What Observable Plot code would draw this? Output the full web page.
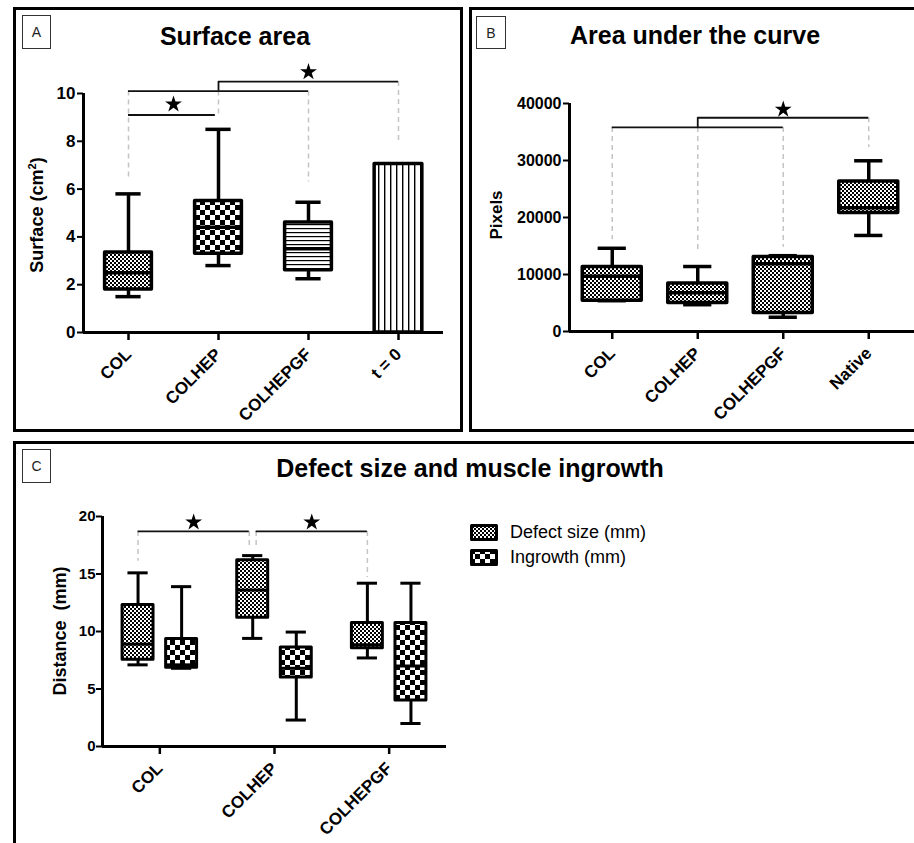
<!DOCTYPE html>
<html><head><meta charset="utf-8">
<script src="https://cdn.jsdelivr.net/npm/d3@7"></script>
<script src="https://cdn.jsdelivr.net/npm/@observablehq/plot@0.6"></script>
<style>
html,body{margin:0;padding:0;background:#fff;}
body{width:914px;height:843px;overflow:hidden;position:relative;font-family:"Liberation Sans",Arial,Helvetica,sans-serif;}
.panel{position:absolute;border:3px solid #000;box-sizing:border-box;}
.tag{position:absolute;border:1px solid #333;box-sizing:border-box;font-size:14px;color:#222;display:flex;align-items:center;justify-content:center;background:#fff;}
.title{position:absolute;font-weight:bold;font-size:25px;transform:translate(-50%,-50%);white-space:nowrap;color:#000;}
.ylab{position:absolute;font-weight:bold;white-space:pre;transform:translate(-50%,-50%) rotate(-90deg);color:#000;}
.ylab sup{font-size:0.62em;vertical-align:0.55em;line-height:0;}
.chart{position:absolute;}
.leg{position:absolute;font-size:18px;transform:translateY(-50%);white-space:nowrap;color:#000;}
.sw{position:absolute;}
</style></head><body>
<svg width="0" height="0" style="position:absolute"><defs>
<pattern id="fine" width="4" height="4" patternUnits="userSpaceOnUse"><rect width="4" height="4" fill="#fff"/><rect width="2" height="2" fill="#000"/><rect x="2" y="2" width="2" height="2" fill="#000"/></pattern>
<pattern id="coarse" width="10" height="10" patternUnits="userSpaceOnUse"><rect width="10" height="10" fill="#fff"/><rect width="5" height="5" fill="#000"/><rect x="5" y="5" width="5" height="5" fill="#000"/></pattern>
<pattern id="hlines" width="8" height="4" patternUnits="userSpaceOnUse"><rect width="8" height="4" fill="#fff"/><rect y="0" width="8" height="1.2" fill="#000"/></pattern>
<pattern id="vlines" width="6" height="8" patternUnits="userSpaceOnUse"><rect width="6" height="8" fill="#fff"/><rect x="0" width="1.4" height="8" fill="#000"/></pattern>
</defs></svg>

<div class="panel" style="left:13px;top:7px;width:450px;height:425px"></div>
<div class="panel" style="left:469px;top:7px;width:460px;height:425px"></div>
<div class="panel" style="left:13px;top:441px;width:910px;height:420px"></div>

<div class="tag" style="left:22px;top:15px;width:29px;height:34px">A</div>
<div class="tag" style="left:476px;top:16px;width:30px;height:33px">B</div>
<div class="tag" style="left:22px;top:449px;width:29px;height:34px">C</div>

<div class="title" style="left:235px;top:36px">Surface area</div>
<div class="title" style="left:695px;top:35px">Area under the curve</div>
<div class="title" style="left:470px;top:468px">Defect size and muscle ingrowth</div>

<div class="ylab" style="left:37px;top:215px;font-size:18px">Surface (cm<sup>2</sup>)</div>
<div class="ylab" style="left:497px;top:215px;font-size:17px">Pixels</div>
<div class="ylab" style="left:60px;top:631px;font-size:18px">Distance  (mm)</div>

<div id="chartA" class="chart" style="left:0;top:60px"></div>
<div id="chartB" class="chart" style="left:460px;top:60px"></div>
<div id="chartC" class="chart" style="left:0;top:490px"></div>
<div id="legendC"></div>

<script>
const FONT = '"Liberation Sans", Arial, Helvetica, sans-serif';

// ---------------- Panel A: Surface area ----------------
const catsA = ["COL", "COLHEP", "COLHEPGF", "t = 0"];
const boxCatsA = ["COL", "COLHEP", "COLHEPGF"];
const minA = [1.5, 2.8, 2.25];
const q1A  = [1.8, 3.3, 2.6];
const medA = [2.5, 4.4, 3.5];
const q3A  = [3.35, 5.5, 4.6];
const maxA = [5.8, 8.5, 5.45];
const barCatA = "t = 0";
const barValA = 7.05;
const yTicksA = [0, 2, 4, 6, 8, 10];
const brFromA = ["COL", "COL", "COLHEP"];
const brToA   = ["COLHEP", "COLHEPGF", "t = 0"];
const brYA    = [9.1, 10.1, 10.5];
const starBrA = [0, 2];
const starYA  = [9.55, 10.9];
const dropCatA = ["COL", "COLHEP", "COLHEPGF", "t = 0"];
const dropTopA = [10.1, 10.1, 10.1, 10.5];
const dropBotA = [6.5, 9.1, 6.3, 7.9];
const connCatA = ["COLHEP"];
const connLoA = [10.1];
const connHiA = [10.5];

// ---------------- Panel B: Area under the curve ----------------
const catsB = ["COL", "COLHEP", "COLHEPGF", "Native"];
const minB = [5400, 4700, 2500, 16850];
const q1B  = [5400, 5000, 3250, 20800];
const medB = [9700, 6800, 11900, 21700];
const q3B  = [11300, 8400, 13050, 26300];
const maxB = [14600, 11400, 13300, 29950];
const yTicksB = [0, 10000, 20000, 30000, 40000];
const brFromB = ["COL", "COLHEP"];
const brToB   = ["COLHEPGF", "Native"];
const brYB    = [35800, 37500];
const starBrB = [1];
const starYB  = [38950];
const dropCatB = ["COL", "COLHEP", "COLHEPGF", "Native"];
const dropTopB = [35800, 35800, 35800, 37500];
const dropBotB = [16100, 13700, 14800, 32300];
const connCatB = ["COLHEP"];
const connLoB = [35800];
const connHiB = [37500];

// ---------------- Panel C: Defect size and muscle ingrowth ----------------
const catsC = ["COL", "COLHEP", "COLHEPGF"];
const seriesC = ["Defect size (mm)", "Ingrowth (mm)"];
const defMin = [7.1, 9.4, 7.7];
const defQ1  = [7.55, 11.2, 8.55];
const defMed = [8.9, 13.6, 8.85];
const defQ3  = [12.3, 16.2, 10.75];
const defMax = [15.1, 16.6, 14.2];
const ingMin = [6.8, 2.3, 2.0];
const ingQ1  = [6.85, 6.0, 4.0];
const ingMed = [7.1, 6.8, 7.0];
const ingQ3  = [9.35, 8.6, 10.75];
const ingMax = [13.9, 9.95, 14.2];
const yTicksC = [0, 5, 10, 15, 20];
const brFromC = ["COL", "COLHEP"];
const brToC   = ["COLHEP", "COLHEPGF"];
const brYC    = [18.7, 18.7];
const starYC  = [19.5, 19.5];
const dropCatC = ["COL", "COLHEP", "COLHEPGF"];
const dropTopC = [18.7, 18.7, 18.7];
const dropBotC = [16.1, 17.2, 14.7];

// ---------------- helpers ----------------
function boxMarks(items, half, cap, sw) {
  const marks = [];
  for (const it of items) {
    const d = [it];
    marks.push(
      Plot.ruleX(d, {x: "x", y1: "min", y2: "q1", stroke: "#000", strokeWidth: sw}),
      Plot.ruleX(d, {x: "x", y1: "q3", y2: "max", stroke: "#000", strokeWidth: sw}),
      Plot.ruleY(d, {x1: v => v.x - cap, x2: v => v.x + cap, y: "min", stroke: "#000", strokeWidth: sw}),
      Plot.ruleY(d, {x1: v => v.x - cap, x2: v => v.x + cap, y: "max", stroke: "#000", strokeWidth: sw}),
      Plot.rect(d, {x1: v => v.x - half, x2: v => v.x + half, y1: "q1", y2: "q3", fill: it.fill, stroke: "#000", strokeWidth: sw, strokeLinejoin: "round"}),
      Plot.ruleY(d, {x1: v => v.x - half, x2: v => v.x + half, y: "med", stroke: "#000", strokeWidth: sw})
    );
  }
  return marks;
}
function sigMarks(brs, drops, conns, stars, lw) {
  return [
    Plot.ruleX(drops, {x: "x", y1: "top", y2: "bot", stroke: "#c4c4c4", strokeWidth: 1.5, strokeDasharray: "5,4"}),
    Plot.ruleY(brs, {x1: "x1", x2: "x2", y: "y", stroke: "#111", strokeWidth: lw}),
    Plot.ruleX(conns, {x: "x", y1: "lo", y2: "hi", stroke: "#111", strokeWidth: lw}),
    Plot.dot(stars, {x: "x", y: "y", symbol: "star", r: 5.3, fill: "#000", stroke: null})
  ];
}
const baseStyle = {fontFamily: FONT, fontWeight: "bold", background: "transparent", color: "#000", overflow: "visible"};

// ---------------- Chart A ----------------
{
  const xi = c => catsA.indexOf(c);
  const fills = ["url(#fine)", "url(#coarse)", "url(#hlines)"];
  const boxes = boxCatsA.map((c, i) => ({x: xi(c), min: minA[i], q1: q1A[i], med: medA[i], q3: q3A[i], max: maxA[i], fill: fills[i]}));
  const brs = brFromA.map((f, i) => ({x1: xi(f), x2: xi(brToA[i]) - (i === 0 ? 0.035 : 0), y: brYA[i]}));
  const drops = dropCatA.map((c, i) => ({x: xi(c), top: dropTopA[i], bot: dropBotA[i]}));
  const conns = connCatA.map((c, i) => ({x: xi(c), lo: connLoA[i], hi: connHiA[i]}));
  const stars = starBrA.map((b, i) => ({x: (xi(brFromA[b]) + xi(brToA[b])) / 2, y: starYA[i]}));
  const bar = [{x: xi(barCatA), v: barValA}];
  const plot = Plot.plot({
    width: 460, height: 370, marginLeft: 83, marginRight: 17, marginTop: 33, marginBottom: 98,
    x: {type: "linear", domain: [-0.5, 3.5]},
    y: {domain: [0, 10]},
    style: {...baseStyle, fontSize: "16px"},
    marks: [
      ...sigMarks(brs, drops, conns, stars, 1.8),
      ...boxMarks(boxes, 0.26, 0.14, 3.5),
      Plot.rect(bar, {x1: d => d.x - 0.265, x2: d => d.x + 0.265, y1: 0, y2: "v", fill: "url(#vlines)", stroke: "#000", strokeWidth: 3.5, strokeLinejoin: "round"}),
      Plot.ruleX([-0.5], {y1: 0, y2: 10, stroke: "#000", strokeWidth: 3}),
      Plot.ruleY([0], {x1: -0.5, x2: 3.5, stroke: "#000", strokeWidth: 3}),
      Plot.axisY({ticks: yTicksA, tickSize: 6, tickPadding: 2, strokeWidth: 2, label: null, fontSize: 17, fontWeight: "bold"}),
      Plot.axisX({ticks: [0, 1, 2, 3], tickFormat: i => catsA[i], tickRotate: -45, tickSize: 8, tickPadding: 11, strokeWidth: 2.5, label: null, fontSize: 17, fontWeight: "bold"})
    ]
  });
  document.getElementById("chartA").append(plot);
}

// ---------------- Chart B ----------------
{
  const xi = c => catsB.indexOf(c);
  const boxes = catsB.map((c, i) => ({x: i, min: minB[i], q1: q1B[i], med: medB[i], q3: q3B[i], max: maxB[i], fill: "url(#fine)"}));
  const brs = brFromB.map((f, i) => ({x1: xi(f), x2: xi(brToB[i]), y: brYB[i]}));
  const drops = dropCatB.map((c, i) => ({x: xi(c), top: dropTopB[i], bot: dropBotB[i]}));
  const conns = connCatB.map((c, i) => ({x: xi(c), lo: connLoB[i], hi: connHiB[i]}));
  const stars = starBrB.map((b, i) => ({x: (xi(brFromB[b]) + xi(brToB[b])) / 2, y: starYB[i]}));
  const plot = Plot.plot({
    width: 454, height: 370, marginLeft: 109, marginRight: 3, marginTop: 43, marginBottom: 99,
    x: {type: "linear", domain: [-0.5, 3.5]},
    y: {domain: [0, 40000]},
    style: {...baseStyle, fontSize: "16px"},
    marks: [
      ...sigMarks(brs, drops, conns, stars, 1.8),
      ...boxMarks(boxes, 0.345, 0.165, 3.5),
      Plot.ruleX([-0.5], {y1: 0, y2: 40000, stroke: "#000", strokeWidth: 3}),
      Plot.ruleY([0], {x1: -0.5, x2: 3.55, stroke: "#000", strokeWidth: 3}),
      Plot.axisY({ticks: yTicksB, tickFormat: d => String(d), tickSize: 6, tickPadding: 2, strokeWidth: 2, label: null, fontSize: 16, fontWeight: "bold"}),
      Plot.axisX({ticks: [0, 1, 2, 3], tickFormat: i => catsB[i], tickRotate: -45, tickSize: 8, tickPadding: 11, strokeWidth: 2.5, label: null, fontSize: 17, fontWeight: "bold"})
    ]
  });
  document.getElementById("chartB").append(plot);
}

// ---------------- Chart C ----------------
{
  const off = 0.19;
  const xi = c => catsC.indexOf(c);
  const boxes = [];
  catsC.forEach((c, i) => {
    boxes.push({x: i - off, min: defMin[i], q1: defQ1[i], med: defMed[i], q3: defQ3[i], max: defMax[i], fill: "url(#fine)"});
    boxes.push({x: i + off, min: ingMin[i], q1: ingQ1[i], med: ingMed[i], q3: ingQ3[i], max: ingMax[i], fill: "url(#coarse)"});
  });
  const gap = 0.03;
  const brs = brFromC.map((f, i) => ({x1: xi(f) - off + (i === 1 ? gap : 0), x2: xi(brToC[i]) - off - (i === 0 ? gap : 0), y: brYC[i]}));
  const drops = [];
  dropCatC.forEach((c, i) => {
    if (c === "COLHEP") {
      drops.push({x: xi(c) - off - gap, top: dropTopC[i], bot: dropBotC[i]});
      drops.push({x: xi(c) - off + gap, top: dropTopC[i], bot: dropBotC[i]});
    } else drops.push({x: xi(c) - off, top: dropTopC[i], bot: dropBotC[i]});
  });
  const stars = brs.map((b, i) => ({x: (b.x1 + b.x2) / 2, y: starYC[i]}));
  const plot = Plot.plot({
    width: 470, height: 353, marginLeft: 102, marginRight: 24, marginTop: 26, marginBottom: 97,
    x: {type: "linear", domain: [-0.5, 2.5]},
    y: {domain: [0, 20]},
    style: {...baseStyle, fontSize: "15px"},
    marks: [
      ...sigMarks(brs, drops, [], stars, 1.8),
      ...boxMarks(boxes, 0.135, 0.088, 3),
      Plot.ruleX([-0.5], {y1: 0, y2: 20, stroke: "#000", strokeWidth: 3}),
      Plot.ruleY([0], {x1: -0.5, x2: 2.5, stroke: "#000", strokeWidth: 3}),
      Plot.axisY({ticks: yTicksC, tickSize: 6, tickPadding: 1, strokeWidth: 2, label: null, fontSize: 15, fontWeight: "bold"}),
      Plot.axisX({ticks: [0, 1, 2], tickFormat: i => catsC[i], tickRotate: -45, tickSize: 8, tickPadding: 11, strokeWidth: 2.5, label: null, fontSize: 17, fontWeight: "bold"})
    ]
  });
  document.getElementById("chartC").append(plot);

  // legend
  const leg = document.getElementById("legendC");
  const swFills = ["url(#fine)", "url(#coarse)"];
  seriesC.forEach((s, i) => {
    const top = 525 + i * 25;
    const sw = document.createElementNS("http://www.w3.org/2000/svg", "svg");
    sw.setAttribute("class", "sw");
    sw.setAttribute("width", "28"); sw.setAttribute("height", "17");
    sw.style.left = "470px"; sw.style.top = (top - 1) + "px";
    sw.innerHTML = `<rect x="1.5" y="1.5" width="25" height="14" fill="${swFills[i]}" stroke="#000" stroke-width="3" stroke-linejoin="round"/>`;
    leg.append(sw);
    const t = document.createElement("div");
    t.className = "leg";
    t.style.left = "510px"; t.style.top = (top + 7) + "px";
    t.textContent = s;
    leg.append(t);
  });
}
</script>
</body></html>
